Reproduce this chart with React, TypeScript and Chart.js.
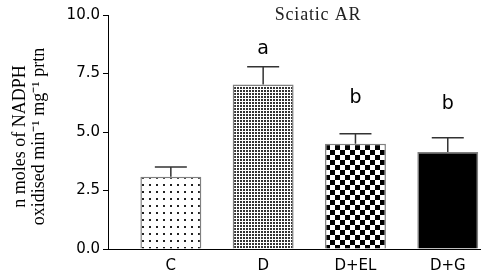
import React, { useEffect, useRef } from 'react';
import { Chart, registerables } from 'chart.js';
Chart.register(...registerables);

const categories = ['C', 'D', 'D+EL', 'D+G'];
const means = [3.09, 7.03, 4.5, 4.15];
const errors = [0.41, 0.76, 0.43, 0.6];
const letters = ['', 'a', 'b', 'b'];
const letterY: (number | null)[] = [null, 8.55, 6.45, 6.2];
const yTicks = [0, 2.5, 5, 7.5, 10];
const chartTitle = 'Sciatic AR';
const yTitle = ['n moles of NADPH  ', 'oxidised min\u207B\u00B9 mg\u207B\u00B9 prtn  '];

function makePattern(size: number, draw: (g: CanvasRenderingContext2D) => void) {
  const c = document.createElement('canvas');
  c.width = size;
  c.height = size;
  const g = c.getContext('2d')!;
  g.fillStyle = '#ffffff';
  g.fillRect(0, 0, size, size);
  draw(g);
  return g.createPattern(c, 'repeat')!;
}

const annotate = {
  id: 'annotate',
  afterDatasetsDraw(chart: any) {
    const ctx = chart.ctx;
    const meta = chart.getDatasetMeta(0);
    const ys = chart.scales.y;
    ctx.save();
    meta.data.forEach((bar: any, i: number) => {
      const x = bar.x;
      const top = ys.getPixelForValue(means[i]);
      const tip = ys.getPixelForValue(means[i] + errors[i]);
      ctx.strokeStyle = '#333';
      ctx.lineWidth = 1.5;
      ctx.beginPath();
      ctx.moveTo(x, top);
      ctx.lineTo(x, tip);
      ctx.moveTo(x - 16, tip);
      ctx.lineTo(x + 16, tip);
      ctx.stroke();
      const ly = letterY[i];
      if (letters[i] && ly !== null) {
        ctx.fillStyle = '#000';
        ctx.font = '19px "DejaVu Sans"';
        ctx.textAlign = 'center';
        ctx.textBaseline = 'middle';
        ctx.fillText(letters[i], x, ys.getPixelForValue(ly));
      }
    });
    const ca = chart.chartArea;
    ctx.font = '18px "Liberation Serif"';
    (ctx as any).letterSpacing = '0.8px';
    ctx.fillStyle = '#222';
    ctx.textAlign = 'center';
    ctx.textBaseline = 'middle';
    ctx.fillText(chartTitle, (ca.left + ca.right) / 2 + 23, ca.top);
    ctx.restore();
  },
};

export default function App() {
  const ref = useRef<HTMLCanvasElement | null>(null);
  useEffect(() => {
    if (!ref.current) return;
    const fills = [
      makePattern(7, (g) => { g.fillStyle = '#222'; g.fillRect(2, 2, 2, 2); }),
      makePattern(3, (g) => { g.fillStyle = '#333'; g.fillRect(0, 0, 2, 2); }),
      makePattern(10, (g) => { g.fillStyle = '#000'; g.fillRect(0, 0, 5, 5); g.fillRect(5, 5, 5, 5); }),
      '#000000',
    ];
    const chart = new Chart(ref.current, {
      type: 'bar',
      data: {
        datasets: [
          {
            data: means.map((m, i) => ({ x: i, y: m })),
            backgroundColor: fills as any,
            borderColor: '#808080',
            borderWidth: 1.5,
            barPercentage: 0.66,
            categoryPercentage: 1,
          },
        ],
      },
      plugins: [annotate],
      options: {
        responsive: false,
        animation: false,
        layout: { padding: { top: 15, left: 0, right: 0, bottom: -11 } },
        plugins: { legend: { display: false }, tooltip: { enabled: false }, title: { display: false } },
        scales: {
          x: {
            type: 'linear',
            min: -0.67,
            max: 3.36,
            offset: false,
            afterBuildTicks: (s: any) => { s.ticks = categories.map((_, i) => ({ value: i })); },
            ticks: {
              callback: (v: any) => categories[v] ?? '',
              color: '#000',
              font: { family: 'DejaVu Sans', size: 15, lineHeight: 1.2 },
              padding: 8,
              autoSkip: false,
              maxRotation: 0,
            },
            grid: { display: false, drawTicks: false },
            border: { display: true, color: '#000', width: 1 },
          },
          y: {
            min: 0,
            max: 10,
            afterBuildTicks: (s: any) => { s.ticks = yTicks.map((v) => ({ value: v })); },
            ticks: {
              callback: (v: any) => Number(v).toFixed(1),
              color: '#000',
              font: { family: 'DejaVu Sans', size: 15 },
              padding: 3,
            },
            grid: { drawOnChartArea: false, drawTicks: true, tickLength: 6, color: '#000', lineWidth: 1 },
            border: { display: true, color: '#000', width: 1 },
            title: {
              display: true,
              text: yTitle,
              color: '#000',
              font: { family: 'Liberation Serif', size: 18, lineHeight: 1.1 },
              padding: { top: 10, bottom: 14 },
            },
          },
        },
      },
    });
    return () => chart.destroy();
  }, []);
  return (
    <div style={{ position: 'absolute', left: 0, top: 0, width: 481, height: 272 }}>
      <canvas ref={ref} width={481} height={272} style={{ display: 'block' }} />
    </div>
  );
}
